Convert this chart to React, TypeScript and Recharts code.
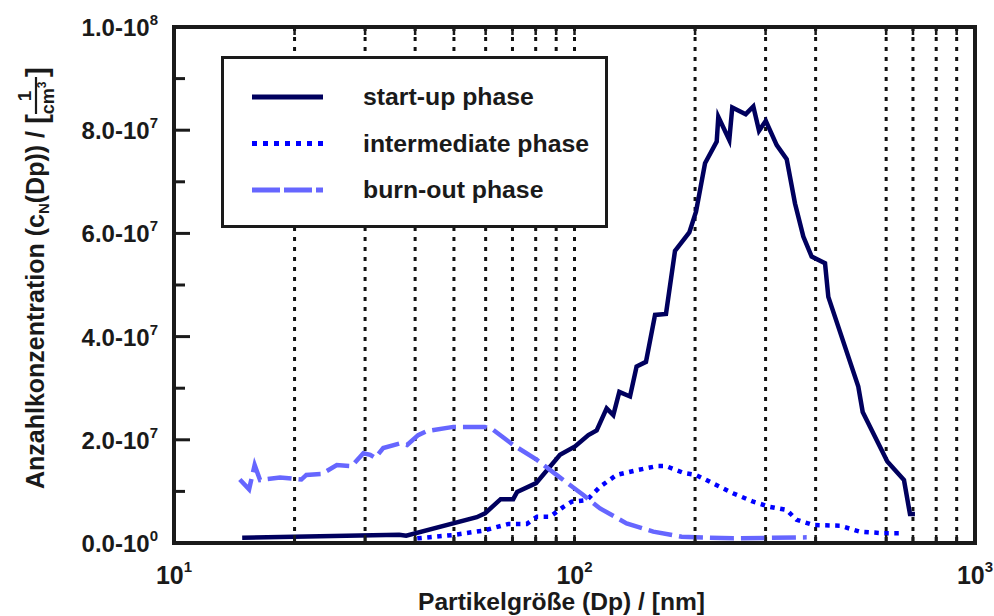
import React from 'react'
import { LineChart, Line, XAxis, YAxis, CartesianGrid, ReferenceArea, Legend, Label } from 'recharts'

const FONT = '"Liberation Sans", Arial, Helvetica, sans-serif'
const INK = '#1a1a1a'

// particle diameter Dp [nm] / number concentration [1/cm³]
const startupDp = [
  14.8, 36.5, 38.0, 57.0, 59.8, 65.4, 70.3, 71.9, 80.2, 92.0, 100.3, 108.3, 113.6, 120.3, 125.0,
  129.4, 137.6, 142.9, 150.8, 158.9, 169.2, 178.2, 193.5, 201.1, 211.8, 226.5, 228.6, 243.5,
  247.7, 267.6, 279.6, 288.9, 300.3, 319.8, 338.7, 355.3, 372.7, 391.0, 422.2, 430.3, 511.2,
  524.3, 604.0, 664.8, 688.1, 708.0,
]
const startupCn = [
  1.0e6, 1.6e6, 1.4e6, 5.0e6, 5.75e6, 8.5e6, 8.5e6, 9.9e6, 11.6e6, 17.1e6, 18.7e6, 20.9e6, 21.8e6,
  26.1e6, 24.8e6, 29.3e6, 28.4e6, 34.2e6, 35.1e6, 44.2e6, 44.4e6, 56.6e6, 60.2e6, 64.2e6, 73.6e6,
  77.8e6, 82.6e6, 78.1e6, 84.4e6, 83.1e6, 84.6e6, 79.9e6, 81.8e6, 77.1e6, 74.4e6, 65.8e6, 59.4e6,
  55.5e6, 54.2e6, 47.7e6, 30.3e6, 25.4e6, 15.8e6, 12.2e6, 5.6e6, 5.6e6,
]

const intermediateDp = [
  40.5, 49.8, 59.2, 68.4, 76.0, 80.6, 86.9, 93.8, 98.4, 107.3, 115.8, 127.4, 142.9, 160.4, 169.3,
  187.0, 201.0, 226.6, 249.5, 279.6, 307.6, 338.7, 358.5, 394.5, 460.0, 516.0, 590.0, 650.0,
]
const intermediateCn = [
  0.9e6, 1.55e6, 2.4e6, 3.7e6, 3.7e6, 5.1e6, 5.1e6, 7.0e6, 8.0e6, 8.3e6, 10.9e6, 13.2e6, 14.1e6,
  14.9e6, 14.9e6, 13.6e6, 13.2e6, 11.2e6, 9.6e6, 8.0e6, 7.0e6, 6.4e6, 4.5e6, 3.5e6, 3.35e6, 2.2e6,
  1.9e6, 1.9e6,
]

const burnoutDp = [
  14.6, 15.4, 15.9, 16.4, 18.4, 20.8, 21.4, 23.4, 25.5, 27.8, 29.7, 30.9, 31.8, 33.3, 36.7, 38.2,
  40.7, 42.8, 49.8, 59.7, 62.7, 70.3, 80.6, 90.2, 105.2, 115.8, 134.9, 157.3, 185.2, 249.5, 380.0,
]
const burnoutCn = [
  12.3e6, 10.4e6, 15.1e6, 12.2e6, 12.7e6, 12.3e6, 13.2e6, 13.4e6, 15.1e6, 14.9e6, 17.4e6, 17.1e6,
  16.5e6, 18.4e6, 19.3e6, 19.0e6, 20.9e6, 21.7e6, 22.5e6, 22.5e6, 21.9e6, 19.0e6, 16.1e6, 13.2e6,
  9.3e6, 6.7e6, 3.8e6, 2.2e6, 1.2e6, 0.9e6, 1.1e6,
]

// dotted verticals (no line at 500)
const gridDp = [10, 20, 30, 40, 50, 60, 70, 80, 90, 100, 200, 300, 400, 600, 700, 800, 900, 1000]
const decadeDp = [10, 100, 1000]
const yTicks = [0, 1e7, 2e7, 3e7, 4e7, 5e7, 6e7, 7e7, 8e7, 9e7, 1e8]

const toPoints = (dp: number[], cn: number[]) => dp.map((d, i) => ({ dp: d, cn: cn[i] }))

const series = [
  { name: 'start-up phase', data: toPoints(startupDp, startupCn), color: '#00005e', dash: undefined, legendDash: undefined },
  { name: 'intermediate phase', data: toPoints(intermediateDp, intermediateCn), color: '#0000ff', dash: '4.5 5.5', legendDash: '5 6' },
  { name: 'burn-out phase', data: toPoints(burnoutDp, burnoutCn), color: '#6666ff', dash: '24 7', legendDash: '28 4' },
]

function BottomTick({ x, y, payload }: any) {
  const v = payload.value
  return (
    <g>
      <line x1={x} y1={y} x2={x} y2={y - 8} stroke={INK} strokeWidth={2.5} />
      {decadeDp.includes(v) && (
        <text x={x} y={y + 41} textAnchor="middle" fontFamily={FONT} fontWeight="bold" fontSize={25} fill={INK}>
          10<tspan dy={-12} fontSize={15}>{Math.round(Math.log10(v))}</tspan>
        </text>
      )}
    </g>
  )
}

function TopTick({ x, y }: any) {
  return <line x1={x} y1={y} x2={x} y2={y + 8} stroke={INK} strokeWidth={2.5} />
}

function LeftTick({ x, y, payload, index }: any) {
  const v = payload.value
  const major = index % 2 === 0
  const exp = v === 0 ? 0 : Math.floor(Math.log10(v))
  const mant = (v / Math.pow(10, exp)).toFixed(1)
  return (
    <g>
      <line x1={x} y1={y} x2={x + (major ? 16 : 11)} y2={y} stroke={INK} strokeWidth={3} />
      {major && (
        <text x={x - 16} y={y + 9} textAnchor="end" fontFamily={FONT} fontWeight="bold" fontSize={24} fill={INK}>
          {mant}-10<tspan dy={-11} fontSize={15}>{exp}</tspan>
        </text>
      )}
    </g>
  )
}

function RightTick({ x, y, index }: any) {
  const major = index % 2 === 0
  return <line x1={x} y1={y} x2={x - (major ? 16 : 11)} y2={y} stroke={INK} strokeWidth={3} />
}

function YTitle({ viewBox }: any) {
  const cx = viewBox.x + 36
  const cy = viewBox.y + viewBox.height / 2
  return (
    <g transform={`translate(${cx},${cy}) rotate(-90)`} fontFamily={FONT} fontWeight="bold" fill={INK}>
      <text x={154} y={8} textAnchor="end" fontSize={25}>
        Anzahlkonzentration (c<tspan fontSize={15} dy={5}>N</tspan>
        <tspan dy={-5}>(Dp)) /</tspan>
      </text>
      <text x={161} y={11} fontSize={30}>[</text>
      <text x={189} y={-5} textAnchor="middle" fontSize={19}>1</text>
      <line x1={171} x2={208} y1={0} y2={0} stroke={INK} strokeWidth={2.2} />
      <text x={187} y={18} textAnchor="middle" fontSize={18}>
        cm<tspan dy={-8} fontSize={12}>3</tspan>
      </text>
      <text x={208} y={11} fontSize={30}>]</text>
    </g>
  )
}

function XTitle({ viewBox }: any) {
  return (
    <text
      x={viewBox.x + viewBox.width / 2 - 13}
      y={viewBox.y + 67}
      textAnchor="middle"
      fontFamily={FONT}
      fontWeight="bold"
      fontSize={23}
      fill={INK}
      textLength={287}
      lengthAdjust="spacingAndGlyphs"
    >
      Partikelgröße (Dp) / [nm]
    </text>
  )
}

function LegendBox() {
  return (
    <div style={{ width: 387, height: 172, boxSizing: 'border-box', border: `3px solid ${INK}`, background: '#fff' }}>
      <svg width={381} height={166} style={{ display: 'block' }}>
        {series.map((s, i) => {
          const y = 38 + i * 46.5
          return (
            <g key={s.name}>
              <line x1={28} x2={99} y1={y} y2={y} stroke={s.color} strokeWidth={5} strokeDasharray={s.legendDash} />
              <text x={139} y={y + 8} fontFamily={FONT} fontWeight="bold" fontSize={24.8} fill={INK}>
                {s.name}
              </text>
            </g>
          )
        })}
      </svg>
    </div>
  )
}

export default function App() {
  return (
    <div style={{ position: 'absolute', left: 0, top: 0, width: 994, height: 616, background: '#fff' }}>
      <LineChart width={994} height={616} margin={{ top: 0, right: 0, bottom: 0, left: 0 }}>
        <CartesianGrid horizontal={false} stroke="#111" strokeWidth={3} strokeDasharray="4 6" />
        <XAxis
          dataKey="dp"
          type="number"
          scale="log"
          domain={[10, 1000]}
          allowDataOverflow
          ticks={gridDp}
          interval={0}
          height={73}
          tickSize={0}
          tickMargin={0}
          axisLine={false}
          tickLine={false}
          tick={<BottomTick />}
        >
          <Label content={<XTitle />} />
        </XAxis>
        <XAxis
          xAxisId="top"
          orientation="top"
          dataKey="dp"
          type="number"
          scale="log"
          domain={[10, 1000]}
          allowDataOverflow
          ticks={gridDp}
          interval={0}
          height={27}
          tickSize={0}
          tickMargin={0}
          axisLine={false}
          tickLine={false}
          tick={<TopTick />}
        />
        <YAxis
          type="number"
          domain={[0, 1e8]}
          ticks={yTicks}
          interval={0}
          width={174}
          tickSize={0}
          tickMargin={0}
          axisLine={false}
          tickLine={false}
          tick={<LeftTick />}
        >
          <Label content={<YTitle />} />
        </YAxis>
        <YAxis
          yAxisId="right"
          orientation="right"
          type="number"
          domain={[0, 1e8]}
          ticks={yTicks}
          interval={0}
          width={19}
          tickSize={0}
          tickMargin={0}
          axisLine={false}
          tickLine={false}
          tick={<RightTick />}
        />
        {series.map(s => (
          <Line
            key={s.name}
            data={s.data}
            dataKey="cn"
            name={s.name}
            type="linear"
            stroke={s.color}
            strokeWidth={4.5}
            strokeDasharray={s.dash}
            strokeLinejoin="miter"
            dot={false}
            activeDot={false}
            isAnimationActive={false}
          />
        ))}
        <ReferenceArea x1={10} x2={1000} y1={0} y2={1e8} fill="none" stroke={INK} strokeWidth={4} />
        <Legend
          layout="horizontal"
          verticalAlign="middle"
          align="center"
          content={<LegendBox />}
          wrapperStyle={{ left: 221, top: 56, width: 387, height: 172 }}
        />
      </LineChart>
    </div>
  )
}
